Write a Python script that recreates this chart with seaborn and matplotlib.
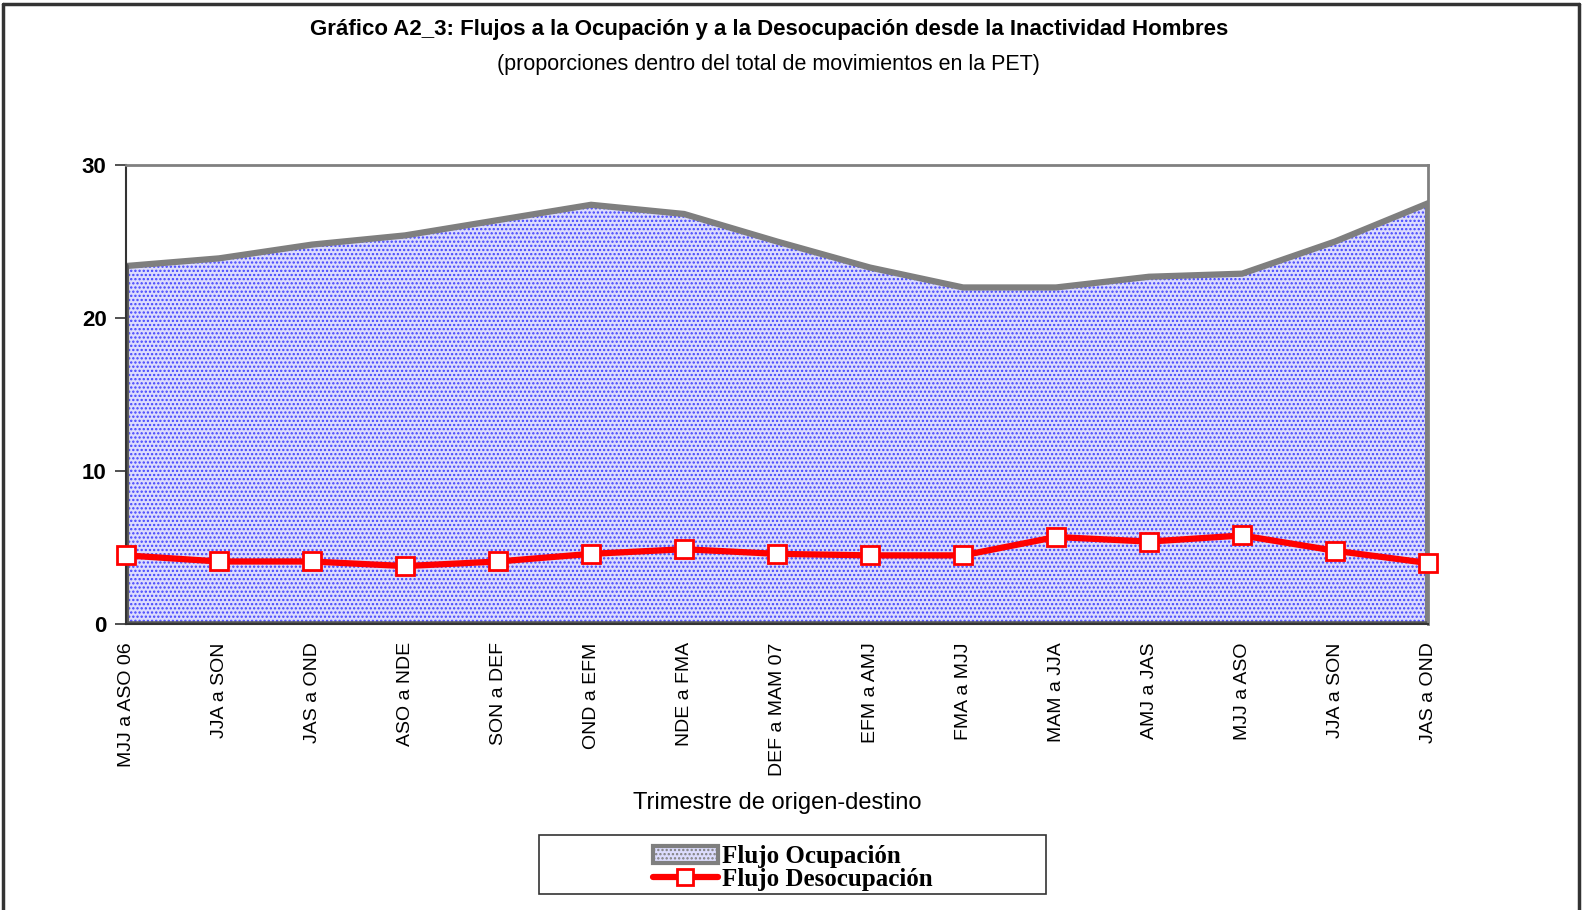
import matplotlib
matplotlib.use("Agg")
import matplotlib.pyplot as plt
import seaborn as sns
import numpy as np
import pandas as pd
from matplotlib.patches import Patch, Rectangle
from matplotlib.lines import Line2D

categories = ["MJJ a ASO 06", "JJA a SON", "JAS a OND", "ASO a NDE", "SON a DEF",
              "OND a EFM", "NDE a FMA", "DEF a MAM 07", "EFM a AMJ", "FMA a MJJ",
              "MAM a JJA", "AMJ a JAS", "MJJ a ASO", "JJA a SON", "JAS a OND"]
flujo_ocupacion = [23.4, 23.9, 24.8, 25.4, 26.4, 27.4, 26.8, 25.0, 23.3, 22.0,
                   22.0, 22.7, 22.9, 25.0, 27.5]
flujo_desocupacion = [4.5, 4.1, 4.1, 3.8, 4.1, 4.6, 4.9, 4.6, 4.5, 4.5,
                      5.7, 5.4, 5.8, 4.8, 4.0]
yticks = [0, 10, 20, 30]

sns.set_theme(style="white")
plt.rcParams["font.family"] = ["Liberation Sans", "DejaVu Sans"]
plt.rcParams["hatch.linewidth"] = 1.1
for k in ["text.color", "axes.labelcolor", "xtick.color", "ytick.color"]:
    plt.rcParams[k] = "black"

df = pd.DataFrame({"x": np.arange(len(categories)),
                   "ocup": flujo_ocupacion,
                   "desocup": flujo_desocupacion})

fig = plt.figure(figsize=(15.85, 9.10), dpi=100)
ax = fig.add_axes([0.0795, 0.314, 0.8215, 0.5047])

# area
ax.fill_between(df["x"], 0, df["ocup"], facecolor="#dcdcfd", edgecolor="#4343ff",
                hatch="....", linewidth=0, zorder=1)
# area outline
px = np.concatenate([[0], df["x"], [df["x"].iloc[-1]]])
py = np.concatenate([[0], df["ocup"], [0]])
ax.plot(px, py, color="#7f7f7f", lw=4.5, zorder=2, solid_joinstyle="miter")
ax.plot([0, df["x"].iloc[-1]], [0, 0], color="#555555", lw=4, zorder=2)
ax.plot([0, 0], [0, df["ocup"].iloc[0]], color="#555555", lw=4, zorder=2)

sns.lineplot(data=df, x="x", y="desocup", ax=ax, color="#ff0000", lw=4.5,
             marker="s", markersize=12.5, markerfacecolor="white",
             markeredgecolor="#ff0000", markeredgewidth=2, zorder=5,
             clip_on=False, legend=False)

ax.set_xlim(0, len(categories) - 1)
ax.set_ylim(0, 30)
ax.set_yticks(yticks)
ax.set_yticklabels([str(v) for v in yticks], fontsize=16, fontweight="bold")
ax.set_xticks(df["x"])
ax.set_xticklabels(categories, rotation=90, fontsize=14)
ax.tick_params(axis="y", which="both", left=True, length=8, width=1.2,
               color="#333333", pad=6)
ax.tick_params(axis="x", bottom=False, pad=7)
ax.set_ylabel("")
ax.set_xlabel("Trimestre de origen-destino", fontsize=17, labelpad=12)

for s in ["top", "right"]:
    ax.spines[s].set_color("#808080")
    ax.spines[s].set_linewidth(2)
ax.spines["left"].set_color("#333333")
ax.spines["left"].set_linewidth(1.5)
ax.spines["bottom"].set_color("#333333")
ax.spines["bottom"].set_linewidth(1.5)

fig.text(0.485, 0.968, "Gráfico A2_3: Flujos a la Ocupación y a la Desocupación desde la Inactividad Hombres",
         ha="center", va="center", fontsize=16, fontweight="bold")
fig.text(0.485, 0.929, "(proporciones dentro del total de movimientos en la PET)",
         ha="center", va="center", fontsize=15.5)

# legend box
fig.add_artist(Rectangle((0.340, 0.0176), 0.320, 0.0648, transform=fig.transFigure,
                         facecolor="white", edgecolor="#333333", lw=1.2, zorder=3))
handles = [Patch(facecolor="#dcdcfd", edgecolor="#7f7f7f", hatch="....", lw=3),
           Line2D([0], [0], color="#ff0000", lw=4.5, marker="s", markersize=12,
                  markerfacecolor="white", markeredgecolor="#ff0000", markeredgewidth=2)]
leg = fig.legend(handles, ["Flujo Ocupación", "Flujo Desocupación"],
                 loc="center", bbox_to_anchor=(0.5, 0.046),
                 prop={"family": "Liberation Serif", "weight": "bold", "size": 18},
                 frameon=False, borderpad=0, labelspacing=0.0, handlelength=2.6,
                 handletextpad=0.15, borderaxespad=0)
leg.set_zorder(4)

# figure border
fig.add_artist(Line2D([0.002, 0.002], [0, 0.996], transform=fig.transFigure, color="#333333", lw=2.5))
fig.add_artist(Line2D([0.002, 0.996], [0.996, 0.996], transform=fig.transFigure, color="#333333", lw=2.5))
fig.add_artist(Line2D([0.996, 0.996], [0, 0.996], transform=fig.transFigure, color="#333333", lw=2.5))

fig.savefig("out.png", dpi=100, facecolor="white")
